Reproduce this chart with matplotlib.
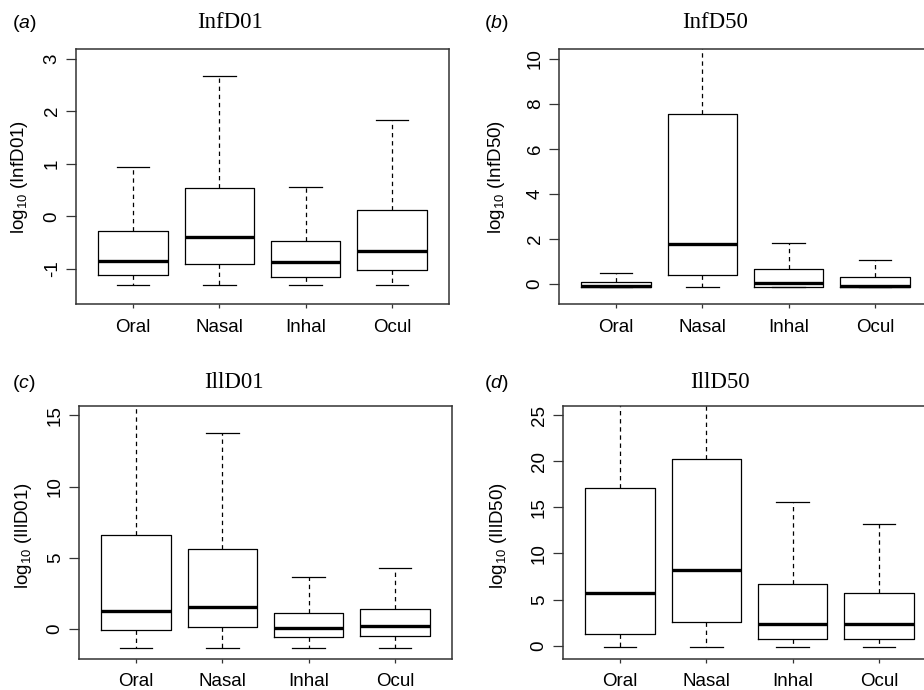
import matplotlib
matplotlib.use("Agg")
import matplotlib.pyplot as plt

plt.rcParams['font.family'] = ['Liberation Sans', 'DejaVu Sans']
plt.rcParams['mathtext.fontset'] = 'custom'
plt.rcParams['mathtext.rm'] = 'Liberation Sans'
plt.rcParams['mathtext.it'] = 'Liberation Sans:italic'
plt.rcParams['mathtext.default'] = 'regular'

routes = ["Oral", "Nasal", "Inhal", "Ocul"]

# five-number summaries per route: [lower whisker, Q1, median, Q3, upper whisker]
infd01_low = [-1.30, -1.30, -1.30, -1.30]
infd01_q1 = [-1.12, -0.91, -1.15, -1.03]
infd01_med = [-0.85, -0.39, -0.87, -0.66]
infd01_q3 = [-0.28, 0.53, -0.47, 0.12]
infd01_high = [0.94, 2.68, 0.55, 1.83]

infd50_low = [-0.16, -0.16, -0.16, -0.16]
infd50_q1 = [-0.16, 0.41, -0.13, -0.16]
infd50_med = [-0.10, 1.75, 0.04, -0.09]
infd50_q3 = [0.09, 7.56, 0.67, 0.31]
infd50_high = [0.49, 12.0, 1.82, 1.04]

illd01_low = [-1.30, -1.30, -1.30, -1.30]
illd01_q1 = [-0.07, 0.16, -0.54, -0.49]
illd01_med = [1.30, 1.56, 0.09, 0.23]
illd01_q3 = [6.59, 5.59, 1.13, 1.42]
illd01_high = [17.0, 13.74, 3.63, 4.31]

illd50_low = [-0.14, -0.14, -0.14, -0.14]
illd50_q1 = [1.29, 2.55, 0.68, 0.68]
illd50_med = [5.76, 8.24, 2.30, 2.37]
illd50_q3 = [17.05, 20.25, 6.65, 5.68]
illd50_high = [30.0, 30.0, 15.54, 13.17]

panels = [
    dict(name="InfD01", tag="a", low=infd01_low, q1=infd01_q1, med=infd01_med,
         q3=infd01_q3, high=infd01_high, yticks=[-1, 0, 1, 2, 3], ylim=(-1.67, 3.185),
         box=(76, 49, 449, 304), title_x=230, title_y=23, tag_x=12, ylab_x=20),
    dict(name="InfD50", tag="b", low=infd50_low, q1=infd50_q1, med=infd50_med,
         q3=infd50_q3, high=infd50_high, yticks=[0, 2, 4, 6, 8, 10], ylim=(-0.9, 10.43),
         box=(559, 49, 932, 304), title_x=715, title_y=23, tag_x=484, ylab_x=497),
    dict(name="IllD01", tag="c", low=illd01_low, q1=illd01_q1, med=illd01_med,
         q3=illd01_q3, high=illd01_high, yticks=[0, 5, 10, 15], ylim=(-2.1, 15.65),
         box=(79, 406, 452, 659), title_x=234, title_y=383, tag_x=12, ylab_x=23),
    dict(name="IllD50", tag="d", low=illd50_low, q1=illd50_q1, med=illd50_med,
         q3=illd50_q3, high=illd50_high, yticks=[0, 5, 10, 15, 20, 25], ylim=(-1.45, 26.0),
         box=(563, 406, 936, 659), title_x=720, title_y=383, tag_x=484, ylab_x=499),
]

W, H = 924, 690
fig = plt.figure(figsize=(W / 100, H / 100), dpi=100)
frame_col = '#333333'

for p in panels:
    l, t, r, b = p["box"]
    ax = fig.add_axes([l / W, 1 - b / H, (r - l) / W, (b - t) / H])
    stats = []
    for i, lab in enumerate(routes):
        stats.append(dict(label=lab, whislo=p["low"][i], q1=p["q1"][i], med=p["med"][i],
                          q3=p["q3"][i], whishi=p["high"][i], fliers=[]))
    ax.bxp(stats, positions=[1, 2, 3, 4], widths=0.8, capwidths=0.38, showfliers=False,
           boxprops=dict(color='black', linewidth=0.9),
           medianprops=dict(color='black', linewidth=2.4, solid_capstyle='butt'),
           whiskerprops=dict(color='black', linewidth=0.9, linestyle=(0, (3.5, 3))),
           capprops=dict(color='black', linewidth=0.9))
    ax.set_xlim(0.34, 4.66)
    ax.set_ylim(*p["ylim"])
    ax.set_yticks(p["yticks"])
    ax.set_yticklabels([str(v) for v in p["yticks"]], rotation=90, va='center')
    ax.set_xticks([1, 2, 3, 4])
    ax.set_xticklabels(routes)
    ax.tick_params(axis='y', length=7, width=0.9, color=frame_col, labelsize=13.5, pad=4)
    ax.tick_params(axis='x', length=3, width=0.9, color=frame_col, labelsize=13.5,
                   pad=8 if t < 300 else 7)
    for s in ax.spines.values():
        s.set_color(frame_col)
        s.set_linewidth(1.1)
    fig.text(p["title_x"] / W, 1 - p["title_y"] / H, p["name"], family='Liberation Serif',
             fontsize=16.5, ha='center', va='center')
    fig.text(p["tag_x"] / W, 1 - p["title_y"] / H, r'($\mathit{%s}$)' % p["tag"],
             fontsize=14, ha='left', va='center')
    ylab_y = (t + b) / 2 + (3 if t > 300 else 0)
    fig.text(p["ylab_x"] / W, 1 - ylab_y / H, r'log$_{10}$ (%s)' % p["name"],
             fontsize=13.5, rotation=90, ha='center', va='center')

fig.savefig("out.png", dpi=100)
